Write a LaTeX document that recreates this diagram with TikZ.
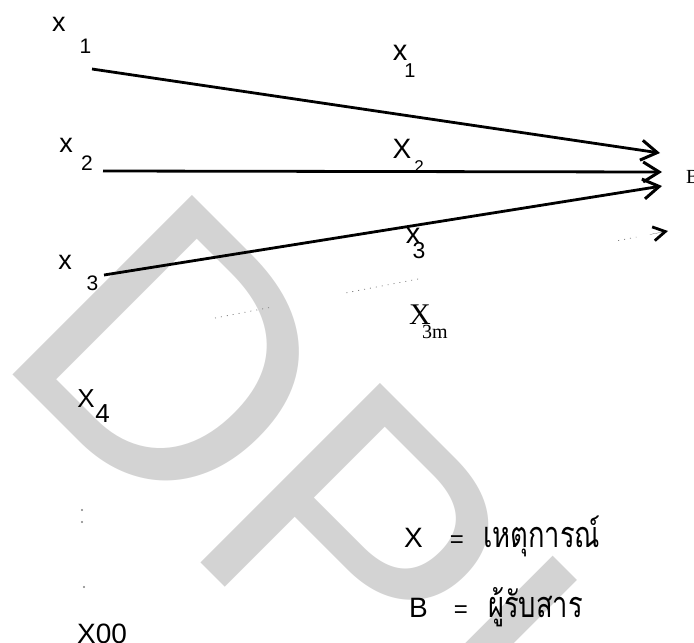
\documentclass[tikz,border=0pt]{standalone}
\usepackage{fontspec}
\setmainfont{Liberation Serif}
\setsansfont{Liberation Sans}
\newfontfamily\thaifont[Script=Thai,FakeStretch=0.76]{Loma}
\usetikzlibrary{arrows.meta,calc}
\definecolor{wm}{RGB}{211,211,211}
\begin{document}
\begin{tikzpicture}[x=1pt,y=-1pt,inner sep=0pt,
  lbl/.style={anchor=base,font=\sffamily\fontsize{27}{30}\selectfont},
  sub/.style={anchor=base,font=\sffamily\fontsize{21}{24}\selectfont},
  feed/.style={line width=2.8pt,-{Straight Barb[length=16pt,width=20pt,line width=3pt]}},
  faint/.style={gray,line width=0.8pt,dash pattern=on 1pt off 5pt}]
 \useasboundingbox (0,0) rectangle (694,643);
 % watermark behind everything
 \node[anchor=base west,rotate=-45,text=wm,font=\sffamily\fontsize{369}{369}\selectfont] (mark) at (-9,353) {DPU};
 % senders
 \foreach \i/\x/\y/\sx/\sy in {1/59/31/85.5/53,2/66/152/87/170,3/65/269/92.5/290} {
  \node[lbl] (x\i) at (\x,\y) {x};
  \node[sub] (n\i) at (\sx,\sy) {\i};
 }
 \node[lbl,font=\sffamily\fontsize{26}{28}\selectfont] (x4) at (86,407) {X};
 \node[sub,font=\sffamily\fontsize{26}{28}\selectfont] (n4) at (102.5,422) {4};
 \fill[gray] (82,510) circle (1.1) (82,522) circle (1.1) (84,587) circle (1.1);
 \node[anchor=base west,font=\sffamily\fontsize{28}{30}\selectfont] (x00) at (77,643) {X00};
 % channels
 \coordinate (s1) at (92,69);  \coordinate (t1) at (660,153);
 \coordinate (s2) at (103,171); \coordinate (t2) at (662,172);
 \coordinate (s3) at (104,275); \coordinate (t3) at (662,186);
 \foreach \i in {1,2,3} {\draw[feed] (s\i) -- (t\i);}
 \coordinate (dA) at (215,318); \coordinate (dB) at (668,231);
 \foreach \a/\b in {0/0.13,0.29/0.45,0.89/0.93} {
  \draw[faint] ($(dA)!\a!(dB)$) -- ($(dA)!\b!(dB)$);
 }
 \draw[line width=0.1pt,-{Straight Barb[length=12pt,width=14pt,line width=2.8pt]}] ($(dA)!0.96!(dB)$) -- (dB);
 % labels on the channels
 \node[lbl,font=\sffamily\fontsize{29}{30}\selectfont] (m1) at (400,60) {x};
 \node[sub,font=\sffamily\fontsize{20}{22}\selectfont] (k1) at (410,77) {1};
 \node[lbl,font=\sffamily\fontsize{28}{30}\selectfont] (m2) at (402,158) {X};
 \node[sub,font=\sffamily\fontsize{17}{20}\selectfont] (k2) at (419,172) {2};
 \node[lbl,font=\sffamily\fontsize{29}{30}\selectfont] (m3) at (413,243) {x};
 \node[sub,font=\sffamily\fontsize{23}{25}\selectfont] (k3) at (419,258) {3};
 \node[anchor=base,font=\fontsize{30}{32}\selectfont] (m3m) at (420,324) {X};
 \node[anchor=base west,font=\fontsize{20}{22}\selectfont] (k3m) at (422,338) {3m};
 % receiver
 \node[anchor=base west,font=\fontsize{20}{22}\selectfont] (recv) at (686,183) {B};
 % legend
 \foreach \t/\x/\y/\ex/\tx/\w in {X/413.5/547/457/483/เหตุการณ์,B/418.5/617/461/488/ผู้รับสาร} {
  \node[lbl,font=\sffamily\fontsize{28}{30}\selectfont] (key\t) at (\x,\y) {\t};
  \node[lbl,font=\sffamily\fontsize{24}{26}\selectfont] (eq\t) at (\ex,\y) {=};
  \node[anchor=base west,font=\thaifont\fontsize{36}{38}\selectfont] (txt\t) at (\tx,\y) {\w};
 }
\end{tikzpicture}
\end{document}
